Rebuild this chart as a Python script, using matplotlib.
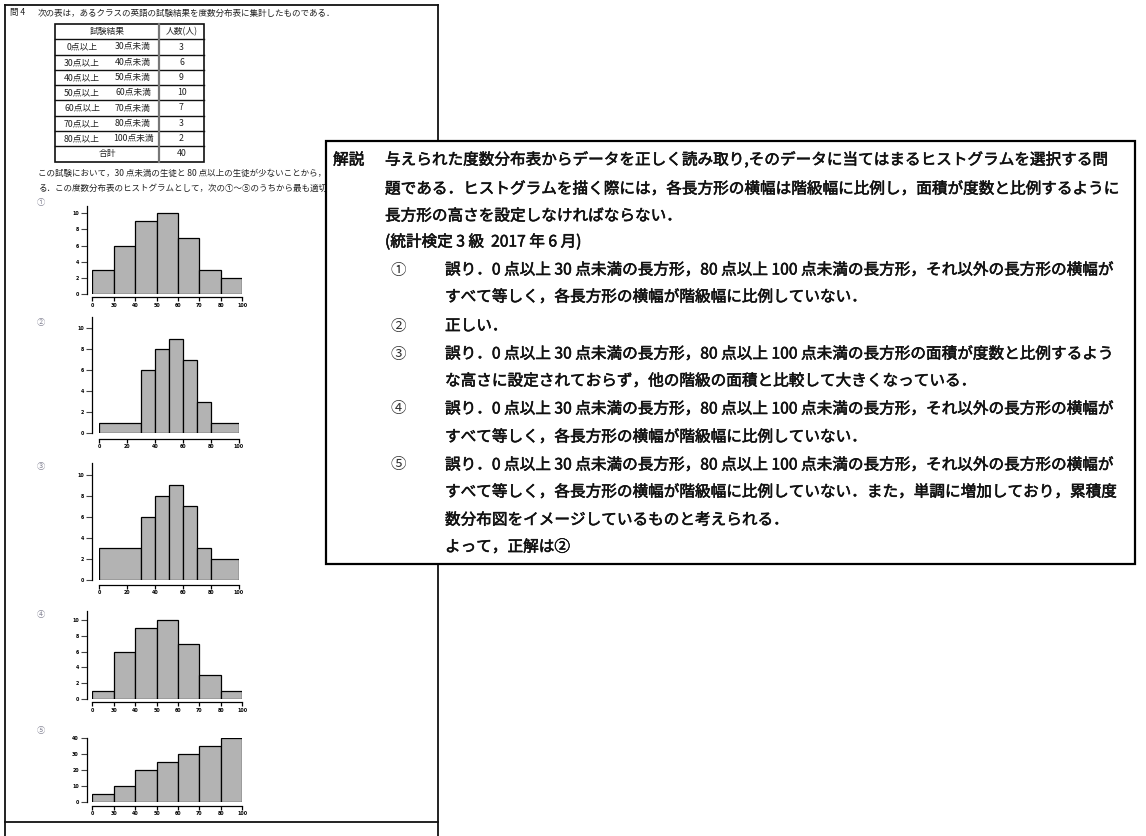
import matplotlib
matplotlib.use('Agg')
import matplotlib.pyplot as plt
import matplotlib.patheffects as pe
import numpy as np
from matplotlib.patches import Rectangle

plt.rcParams['font.family'] = ['Noto Sans CJK JP', 'DejaVu Sans']

W, H = 1146, 836

# ---------------- data ----------------
table_header = ["試験結果", "人数(人)"]
table_lower = [0, 30, 40, 50, 60, 70, 80]
table_upper = [30, 40, 50, 60, 70, 80, 100]
table_counts = [3, 6, 9, 10, 7, 3, 2]
table_total_label = "合計"
table_total = 40

# ① equal-width bars
h1_labels = [0, 30, 40, 50, 60, 70, 80, 100]
h1_values = [3, 6, 9, 10, 7, 3, 2]
# ② true histogram (class widths proportional)
h2_edges = [0, 30, 40, 50, 60, 70, 80, 100]
h2_values = [1, 6, 8, 9, 7, 3, 1]
# ③ widths proportional, heights not adjusted at both ends
h3_edges = [0, 30, 40, 50, 60, 70, 80, 100]
h3_values = [3, 6, 8, 9, 7, 3, 2]
# ④ equal-width bars
h4_labels = [0, 30, 40, 50, 60, 70, 80, 100]
h4_values = [1, 6, 9, 10, 7, 3, 1]
# ⑤ cumulative-like
h5_labels = [0, 30, 40, 50, 60, 70, 80, 100]
h5_values = [5, 10, 20, 25, 30, 35, 40]

q_title = "問 4"
q_line0 = "次の表は，あるクラスの英語の試験結果を度数分布表に集計したものである．"
q_line1 = "この試験において，30 点未満の生徒と 80 点以上の生徒が少ないことから，階級の幅を変えて"
q_line2 = "る．この度数分布表のヒストグラムとして，次の①～⑤のうちから最も適切なものを一つ選べ．"
choice_marks = ["①", "②", "③", "④", "⑤"]

expl_head = "解説"
expl_lines = [
    "与えられた度数分布表からデータを正しく読み取り,そのデータに当てはまるヒストグラムを選択する問",
    "題である．ヒストグラムを描く際には，各長方形の横幅は階級幅に比例し，面積が度数と比例するように",
    "長方形の高さを設定しなければならない．",
    "(統計検定 3 級  2017 年 6 月)",
]
expl_items = [
    ("①", ["誤り．0 点以上 30 点未満の長方形，80 点以上 100 点未満の長方形，それ以外の長方形の横幅が",
           "すべて等しく，各長方形の横幅が階級幅に比例していない．"]),
    ("②", ["正しい．"]),
    ("③", ["誤り．0 点以上 30 点未満の長方形，80 点以上 100 点未満の長方形の面積が度数と比例するよう",
           "な高さに設定されておらず，他の階級の面積と比較して大きくなっている．"]),
    ("④", ["誤り．0 点以上 30 点未満の長方形，80 点以上 100 点未満の長方形，それ以外の長方形の横幅が",
           "すべて等しく，各長方形の横幅が階級幅に比例していない．"]),
    ("⑤", ["誤り．0 点以上 30 点未満の長方形，80 点以上 100 点未満の長方形，それ以外の長方形の横幅が",
           "すべて等しく，各長方形の横幅が階級幅に比例していない．また，単調に増加しており，累積度",
           "数分布図をイメージしているものと考えられる．",
           "よって，正解は②"]),
]

# ---------------- figure ----------------
fig = plt.figure(figsize=(W / 100, H / 100), dpi=100)
bg = fig.add_axes([0, 0, 1, 1])
bg.set_xlim(0, W)
bg.set_ylim(H, 0)
bg.axis('off')

LC = '#111111'
TC = '#222222'
# left page frame
bg.plot([5, 438], [5, 5], color=LC, lw=1.3)
bg.plot([5, 5], [5, 836], color=LC, lw=1.3)
bg.plot([438, 438], [5, 836], color=LC, lw=1.3)
bg.plot([5, 438], [822, 822], color=LC, lw=1.3)

fs_small = 6.15
bg.text(10, 13, q_title, fontsize=fs_small, va='center', ha='left', color=TC)
bg.text(38, 13, q_line0, fontsize=fs_small, va='center', ha='left', color=TC)
bg.text(38, 173, q_line1, fontsize=fs_small, va='center', ha='left', color=TC)
bg.text(38, 188, q_line2, fontsize=fs_small, va='center', ha='left', color=TC)

# frequency table
tx0, tx1, tsplit = 55, 204, 159
row_lines = [24, 39, 55, 70, 85, 100, 116, 131, 146, 161.5]
bg.add_patch(Rectangle((tx0, row_lines[0]), tx1 - tx0, row_lines[-1] - row_lines[0],
                       fill=False, ec=LC, lw=1.2))
for y in row_lines[1:-1]:
    bg.plot([tx0, tx1], [y, y], color=LC, lw=1.0)
bg.plot([tsplit, tsplit], [row_lines[0], row_lines[-1]], color='#777777', lw=1.6)
fs_tab = 6.3
bg.text((tx0 + tsplit) / 2, (row_lines[0] + row_lines[1]) / 2, table_header[0],
        fontsize=fs_tab, ha='center', va='center', color=TC)
bg.text((tsplit + tx1) / 2, (row_lines[0] + row_lines[1]) / 2, table_header[1],
        fontsize=fs_tab, ha='center', va='center', color=TC)
for i, (lo, up, c) in enumerate(zip(table_lower, table_upper, table_counts)):
    yc = (row_lines[i + 1] + row_lines[i + 2]) / 2
    bg.text(82, yc, f"{lo}点以上", fontsize=fs_tab, ha='center', va='center', color=TC)
    bg.text(133, yc, f"{up}点未満", fontsize=fs_tab, ha='center', va='center', color=TC)
    bg.text((tsplit + tx1) / 2, yc, str(c), fontsize=fs_tab, ha='center', va='center', color=TC)
yc = (row_lines[-2] + row_lines[-1]) / 2
bg.text((tx0 + tsplit) / 2, yc, table_total_label, fontsize=fs_tab, ha='center', va='center', color=TC)
bg.text((tsplit + tx1) / 2, yc, str(table_total), fontsize=fs_tab, ha='center', va='center', color=TC)

# choice marks
for m, y in zip(choice_marks, [202, 322, 467, 614, 730]):
    bg.text(41, y, m, fontsize=6, ha='center', va='center', color='#8a8a9a')

# ---------------- histograms ----------------
BAR = '#b3b3b3'


def make_ax(left, right, y0, ppu, ytop, xlim):
    top = y0 - ytop * ppu
    ax = fig.add_axes([left / W, 1 - y0 / H, (right - left) / W, (y0 - top) / H])
    ax.set_xlim(*xlim)
    ax.set_ylim(0, ytop)
    ax.patch.set_alpha(0)
    for s in ['top', 'right']:
        ax.spines[s].set_visible(False)
    ax.spines['left'].set_linewidth(0.9)
    ax.spines['bottom'].set_linewidth(0.9)
    ax.tick_params(axis='y', length=4.2, width=0.8, pad=1.5, labelsize=3.4, color='#444444')
    ax.tick_params(axis='x', length=2.7, width=0.9, pad=1.2, labelsize=3.4)
    return ax


def style_labels(ax):
    for lab in ax.get_xticklabels() + ax.get_yticklabels():
        lab.set_fontweight('bold')
        lab.set_family('DejaVu Sans')


def equal_hist(ax, labels, values, ytick_vals, ytop, xoff, yoff):
    pos = np.arange(len(values))
    ax.bar(pos, values, width=1, align='edge', color=BAR, edgecolor='black', linewidth=0.9)
    ax.set_xticks(np.arange(len(labels)))
    ax.set_xticklabels([str(v) for v in labels])
    ax.set_yticks(ytick_vals)
    ax.spines['left'].set_position(('outward', xoff))
    ax.spines['bottom'].set_position(('outward', yoff))
    ax.spines['left'].set_bounds(0, ytop)
    ax.spines['bottom'].set_bounds(0, len(values))
    style_labels(ax)


def prop_hist(ax, edges, values, xticks, ytick_vals, ytop, xoff, yoff):
    e = np.array(edges, dtype=float)
    ax.bar(e[:-1], values, width=np.diff(e), align='edge', color=BAR, edgecolor='black', linewidth=0.9)
    ax.set_xticks(xticks)
    ax.set_yticks(ytick_vals)
    ax.spines['left'].set_position(('outward', xoff))
    ax.spines['bottom'].set_position(('outward', yoff))
    ax.spines['left'].set_bounds(0, ytop)
    ax.spines['bottom'].set_bounds(0, 100)
    style_labels(ax)


ax1 = make_ax(92.3, 242.3, 294.0, 8.07, 10.9, (0, 7))
equal_hist(ax1, h1_labels, h1_values, [0, 2, 4, 6, 8, 10], 10.9, 4.0, 2.4)

ax2 = make_ax(99.3, 238.7, 433.3, 10.5, 11.1, (0, 100))
prop_hist(ax2, h2_edges, h2_values, [0, 20, 40, 60, 80, 100], [0, 2, 4, 6, 8, 10], 11.1, 5.5, 3.8)

ax3 = make_ax(99.3, 238.7, 580.0, 10.53, 11.1, (0, 100))
prop_hist(ax3, h3_edges, h3_values, [0, 20, 40, 60, 80, 100], [0, 2, 4, 6, 8, 10], 11.1, 5.5, 3.4)

ax4 = make_ax(92.3, 242.3, 699.0, 7.9, 11.1, (0, 7))
equal_hist(ax4, h4_labels, h4_values, [0, 2, 4, 6, 8, 10], 11.1, 4.0, 2.4)

ax5 = make_ax(92.3, 242.3, 802.3, 1.6, 40.3, (0, 7))
equal_hist(ax5, h5_labels, h5_values, [0, 10, 20, 30, 40], 40.3, 4.0, 2.4)

# ---------------- explanation overlay ----------------
bg.add_patch(Rectangle((326, 141), 1135 - 326, 564 - 141, fc='white', ec='black', lw=1.6, zorder=10))
fs_big = 11.25
EC = '#111111'
thick = [pe.withStroke(linewidth=0.4, foreground=EC)]
bg.text(333, 160, expl_head, fontsize=fs_big, ha='left', va='center', color=EC, zorder=11,
        path_effects=thick)
for s, y in zip(expl_lines, [160, 189, 216, 242]):
    bg.text(385, y, s, fontsize=fs_big, ha='left', va='center', color=EC, zorder=11,
            path_effects=thick)

item_ys = [[270, 297], [326], [354, 381], [409, 437], [465, 492, 520, 547]]
for (mark, lines), ys in zip(expl_items, item_ys):
    bg.text(398, ys[0], mark, fontsize=fs_big, ha='center', va='center', color='#333333', zorder=11)
    for s, y in zip(lines, ys):
        bg.text(445, y, s, fontsize=fs_big, ha='left', va='center', color=EC, zorder=11,
                path_effects=thick)

fig.savefig('out.png', dpi=100, facecolor='white')
